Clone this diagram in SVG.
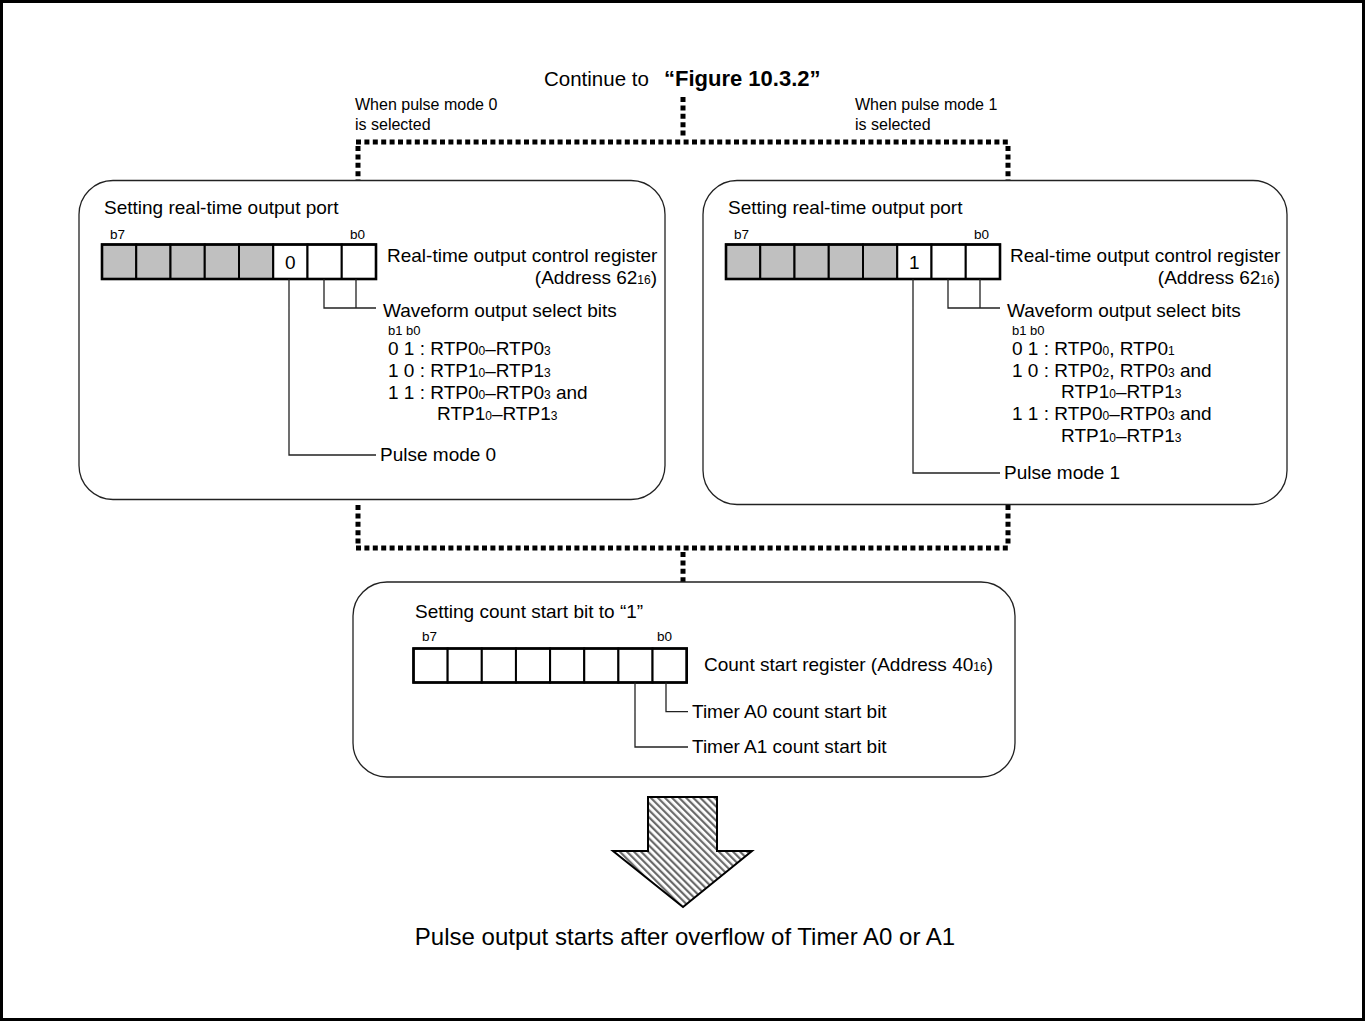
<svg xmlns="http://www.w3.org/2000/svg" width="1365" height="1021" viewBox="0 0 1365 1021">
<defs>
<pattern id="hatch" width="5" height="5" patternUnits="userSpaceOnUse" patternTransform="rotate(-45)">
<rect x="0" y="0" width="5" height="5" fill="#ffffff"/>
<rect x="0" y="0" width="2.2" height="5" fill="#6a6a6a"/>
</pattern>
<style>
text{font-family:"Liberation Sans",Arial,sans-serif;fill:#000}
.t{font-size:19px}
.s{font-size:12px}
.bl{font-size:13.5px}
.sm{font-size:16px}
.box{fill:#fff;stroke:#222;stroke-width:1.3}
.dot{fill:none;stroke:#000;stroke-width:5;stroke-dasharray:5 3.4}
.ld{fill:none;stroke:#222;stroke-width:1.3}
.reg{fill:none;stroke:#000;stroke-width:2.6}
.cell{fill:#fff;stroke:#000;stroke-width:2}
.g{fill:#c0c0c0;stroke:#000;stroke-width:2}
</style>
</defs>
<rect x="0" y="0" width="1365" height="1021" fill="#fff"/>
<rect x="1.5" y="1.5" width="1362" height="1018" fill="none" stroke="#000" stroke-width="3"/>

<g id="heading">
<text x="544" y="86" style="font-size:20.5px">Continue to</text>
<text x="664" y="86" style="font-size:22px;font-weight:bold">“Figure 10.3.2”</text>
<text class="sm" x="355" y="110">When pulse mode 0</text>
<text class="sm" x="355" y="130">is selected</text>
<text class="sm" x="855" y="110">When pulse mode 1</text>
<text class="sm" x="855" y="130">is selected</text>
</g>

<g id="connectors">
<path class="dot" d="M683,97 V137"/>
<path class="dot" d="M356,142 H1010"/>
<path class="dot" d="M358,146 V180"/>
<path class="dot" d="M1008,146 V180"/>
<path class="dot" d="M358,505 V545"/>
<path class="dot" d="M1008,505 V545"/>
<path class="dot" d="M356,548 H1010"/>
<path class="dot" d="M683,552 V582"/>
</g>

<g id="box-mode0">
<rect class="box" x="79" y="180.5" width="586" height="319" rx="34"/>
<text class="t" x="104" y="214">Setting real-time output port</text>
<text class="bl" x="110" y="239">b7</text>
<text class="bl" x="350" y="239">b0</text>
<rect class="g" x="102" y="244.5" width="34.25" height="34.5"/>
<rect class="g" x="136.25" y="244.5" width="34.25" height="34.5"/>
<rect class="g" x="170.5" y="244.5" width="34.25" height="34.5"/>
<rect class="g" x="204.75" y="244.5" width="34.25" height="34.5"/>
<rect class="g" x="239" y="244.5" width="34.25" height="34.5"/>
<rect class="cell" x="273.25" y="244.5" width="34.25" height="34.5"/>
<rect class="cell" x="307.5" y="244.5" width="34.25" height="34.5"/>
<rect class="cell" x="341.75" y="244.5" width="34.25" height="34.5"/>
<rect class="reg" x="102" y="244.5" width="274" height="34.5"/>
<text class="t" x="290.4" y="269" text-anchor="middle">0</text>
<text class="t" x="387" y="262">Real-time output control register</text>
<text class="t" x="657" y="284" text-anchor="end">(Address 62<tspan class="s">16</tspan>)</text>
<path class="ld" d="M324,279 V308 H376 M356,279 V308 M289,279 V455 H376"/>
<text class="t" x="383" y="317">Waveform output select bits</text>
<text x="388" y="335" style="font-size:13px">b1 b0</text>
<text class="t" x="388" y="355">0 1 : RTP0<tspan class="s">0</tspan>–RTP0<tspan class="s">3</tspan></text>
<text class="t" x="388" y="377">1 0 : RTP1<tspan class="s">0</tspan>–RTP1<tspan class="s">3</tspan></text>
<text class="t" x="388" y="399">1 1 : RTP0<tspan class="s">0</tspan>–RTP0<tspan class="s">3</tspan> and</text>
<text class="t" x="437" y="420">RTP1<tspan class="s">0</tspan>–RTP1<tspan class="s">3</tspan></text>
<text class="t" x="380" y="461">Pulse mode 0</text>
</g>

<g id="box-mode1">
<rect class="box" x="703" y="180.5" width="584" height="324" rx="34"/>
<text class="t" x="728" y="214">Setting real-time output port</text>
<text class="bl" x="734" y="239">b7</text>
<text class="bl" x="974" y="239">b0</text>
<rect class="g" x="726" y="244.5" width="34.25" height="34.5"/>
<rect class="g" x="760.25" y="244.5" width="34.25" height="34.5"/>
<rect class="g" x="794.5" y="244.5" width="34.25" height="34.5"/>
<rect class="g" x="828.75" y="244.5" width="34.25" height="34.5"/>
<rect class="g" x="863" y="244.5" width="34.25" height="34.5"/>
<rect class="cell" x="897.25" y="244.5" width="34.25" height="34.5"/>
<rect class="cell" x="931.5" y="244.5" width="34.25" height="34.5"/>
<rect class="cell" x="965.75" y="244.5" width="34.25" height="34.5"/>
<rect class="reg" x="726" y="244.5" width="274" height="34.5"/>
<text class="t" x="914.4" y="269" text-anchor="middle">1</text>
<text class="t" x="1010" y="262">Real-time output control register</text>
<text class="t" x="1280" y="284" text-anchor="end">(Address 62<tspan class="s">16</tspan>)</text>
<path class="ld" d="M948,279 V308 H1000 M980,279 V308 M913,279 V473 H1000"/>
<text class="t" x="1007" y="317">Waveform output select bits</text>
<text x="1012" y="335" style="font-size:13px">b1 b0</text>
<text class="t" x="1012" y="355">0 1 : RTP0<tspan class="s">0</tspan>, RTP0<tspan class="s">1</tspan></text>
<text class="t" x="1012" y="377">1 0 : RTP0<tspan class="s">2</tspan>, RTP0<tspan class="s">3</tspan> and</text>
<text class="t" x="1061" y="398">RTP1<tspan class="s">0</tspan>–RTP1<tspan class="s">3</tspan></text>
<text class="t" x="1012" y="420">1 1 : RTP0<tspan class="s">0</tspan>–RTP0<tspan class="s">3</tspan> and</text>
<text class="t" x="1061" y="442">RTP1<tspan class="s">0</tspan>–RTP1<tspan class="s">3</tspan></text>
<text class="t" x="1004" y="479">Pulse mode 1</text>
</g>

<g id="box-count">
<rect class="box" x="353" y="582" width="662" height="195" rx="34"/>
<text class="t" x="415" y="618">Setting count start bit to “1”</text>
<text class="bl" x="422" y="641">b7</text>
<text class="bl" x="657" y="641">b0</text>
<rect class="cell" x="413.5" y="648.5" width="34.15" height="34"/>
<rect class="cell" x="447.65" y="648.5" width="34.15" height="34"/>
<rect class="cell" x="481.8" y="648.5" width="34.15" height="34"/>
<rect class="cell" x="515.95" y="648.5" width="34.15" height="34"/>
<rect class="cell" x="550.1" y="648.5" width="34.15" height="34"/>
<rect class="cell" x="584.25" y="648.5" width="34.15" height="34"/>
<rect class="cell" x="618.4" y="648.5" width="34.15" height="34"/>
<rect class="cell" x="652.55" y="648.5" width="34.15" height="34"/>
<rect class="reg" x="413.5" y="648.5" width="273.2" height="34"/>
<text class="t" x="704" y="671">Count start register (Address 40<tspan class="s">16</tspan>)</text>
<path class="ld" d="M666,682.5 V711.7 H688 M635,682.5 V747 H688"/>
<text class="t" x="692" y="718">Timer A0 count start bit</text>
<text class="t" x="692" y="753">Timer A1 count start bit</text>
</g>

<g id="result">
<polygon points="648,797 717,797 717,851 752,851 683,907 613,851 648,851" fill="url(#hatch)" stroke="#000" stroke-width="2"/>
<text x="685" y="945" text-anchor="middle" style="font-size:24px">Pulse output starts after overflow of Timer A0 or A1</text>
</g>
</svg>
